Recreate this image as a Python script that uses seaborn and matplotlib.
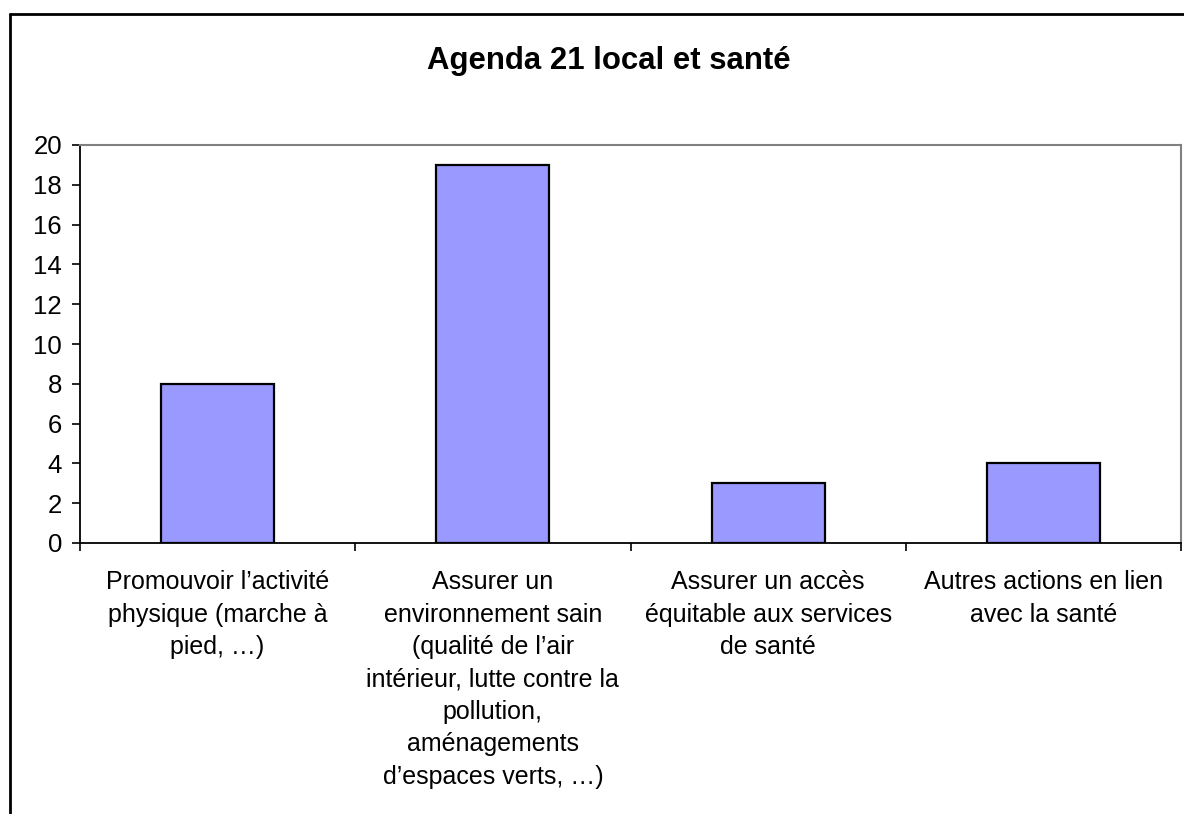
import matplotlib
matplotlib.use("Agg")
import matplotlib.pyplot as plt
from matplotlib.lines import Line2D
import seaborn as sns
import pandas as pd

# data
categories = [
    "Promouvoir l\u2019activit\u00e9\nphysique (marche \u00e0\npied, \u2026)",
    "Assurer un\nenvironnement sain\n(qualit\u00e9 de l\u2019air\nint\u00e9rieur, lutte contre la\npollution,\nam\u00e9nagements\nd\u2019espaces verts, \u2026)",
    "Assurer un acc\u00e8s\n\u00e9quitable aux services\nde sant\u00e9",
    "Autres actions en lien\navec la sant\u00e9",
]
values = [8, 19, 3, 4]
y_ticks = list(range(0, 21, 2))
title = "Agenda 21 local et sant\u00e9"

sns.set_style("white")
plt.rcParams['font.family'] = ['Liberation Sans', 'DejaVu Sans']
plt.rcParams['text.color'] = 'black'

df = pd.DataFrame({"cat": categories, "val": values})

fig = plt.figure(figsize=(11.84, 8.14), dpi=100)
W, H = 1184, 814
ax = fig.add_axes([80 / W, 1 - 543 / H, (1181 - 80) / W, (543 - 145) / H])

sns.barplot(data=df, x="cat", y="val", color="#9999FF", edgecolor="black",
            linewidth=1.6, width=0.41, saturation=1, ax=ax)

ax.set_xlim(-0.5, len(categories) - 0.5)
ax.set_ylim(0, 20)
ax.set_yticks(y_ticks)
ax.set_yticklabels([str(t) for t in y_ticks], fontsize=18.5)
ax.tick_params(axis="y", direction="out", length=6, width=1.2, pad=7, colors="black", left=True)

# category labels centred, ticks at category boundaries
ax.set_xticks(range(len(categories)))
ax.set_xticklabels(categories, fontsize=18, linespacing=1.445, va="top")
ax.tick_params(axis="x", which="major", length=0, pad=19.5, colors="black")
ax.set_xticks([i - 0.5 for i in range(len(categories) + 1)], minor=True)
ax.tick_params(axis="x", which="minor", direction="out", length=6, width=1.2, colors="black", bottom=True)
ax.set_xlabel("")
ax.set_ylabel("")

for side in ["left", "bottom"]:
    ax.spines[side].set_color("black")
    ax.spines[side].set_linewidth(1.3)
for side in ["top", "right"]:
    ax.spines[side].set_visible(True)
    ax.spines[side].set_color("#808080")
    ax.spines[side].set_linewidth(1.5)

fig.text(609 / W, 1 - 61 / H, title, ha="center", va="center", fontsize=22.4,
         fontweight="bold", color="black")

# outer chart border (cropped at right and bottom)
fig.add_artist(Line2D([9.5 / W, 9.5 / W], [0, 1 - 13.5 / H], transform=fig.transFigure, color="black", lw=2))
fig.add_artist(Line2D([9.5 / W, 1], [1 - 13.5 / H, 1 - 13.5 / H], transform=fig.transFigure, color="black", lw=2))

fig.savefig("out.png", dpi=100, facecolor="white")
